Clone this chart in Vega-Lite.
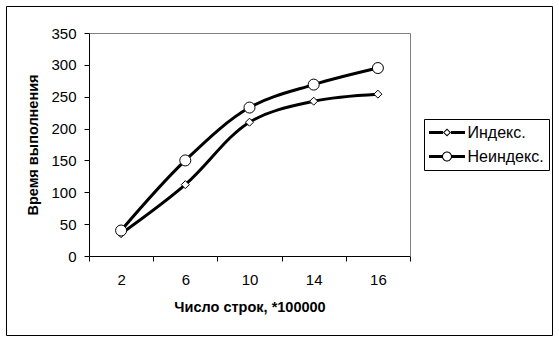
{
  "$schema": "https://vega.github.io/schema/vega-lite/v6.json",
  "width": 546,
  "height": 329,
  "autosize": {"type": "none"},
  "padding": {"left": 6, "top": 6, "right": 7, "bottom": 6},
  "background": "white",
  "config": {
    "view": {"stroke": "black", "strokeWidth": 1},
    "font": "Liberation Sans",
    "axis": {"labelFont": "Liberation Sans", "titleFont": "Liberation Sans", "labelColor": "black", "titleColor": "black", "grid": false}
  },
  "data": {
    "values": [
      {"rows": 2, "time": 35, "series": "Индекс."},
      {"rows": 6, "time": 112, "series": "Индекс."},
      {"rows": 10, "time": 210, "series": "Индекс."},
      {"rows": 14, "time": 243, "series": "Индекс."},
      {"rows": 16, "time": 254, "series": "Индекс."},
      {"rows": 2, "time": 40, "series": "Неиндекс."},
      {"rows": 6, "time": 150, "series": "Неиндекс."},
      {"rows": 10, "time": 233, "series": "Неиндекс."},
      {"rows": 14, "time": 269, "series": "Неиндекс."},
      {"rows": 16, "time": 295, "series": "Неиндекс."}
    ]
  },
  "layer": [
    {
      "mark": {"type": "line", "interpolate": "catmull-rom", "strokeWidth": 3, "color": "black"},
      "encoding": {
        "x": {
          "field": "rows", "type": "ordinal",
          "scale": {"type": "band", "range": [83, 404], "paddingInner": 0, "paddingOuter": 0},
          "axis": {
            "orient": "bottom", "offset": -79, "title": "Число строк, *100000",
            "titleFontWeight": "bold", "titleFontSize": 14.5, "labelFontSize": 15, "labelAngle": 0,
            "tickBand": "extent", "tickSize": 5, "tickColor": "black", "domainColor": "black",
            "labelPadding": 11, "titlePadding": 13
          }
        },
        "y": {
          "field": "time", "type": "quantitative",
          "scale": {"domain": [0, 350], "range": [250, 27], "nice": false, "zero": true},
          "axis": {
            "orient": "left", "offset": -83, "title": "Время выполнения",
            "values": [0, 50, 100, 150, 200, 250, 300, 350],
            "titleFontWeight": "bold", "titleFontSize": 14.5, "labelFontSize": 15,
            "tickSize": 5, "tickColor": "black", "domainColor": "black",
            "labelPadding": 8, "titlePadding": 10
          }
        },
        "detail": {"field": "series", "type": "nominal"}
      }
    },
    {
      "mark": {"type": "point", "filled": true, "color": "black", "opacity": 0, "strokeWidth": 0},
      "encoding": {
        "x": {"field": "rows", "type": "ordinal", "axis": null},
        "y": {"field": "time", "type": "quantitative", "axis": null},
        "shape": {
          "field": "series", "type": "nominal",
          "scale": {
            "domain": ["Индекс.", "Неиндекс."],
            "range": [
              "M-2.118,-0.176L-0.471,-0.176L-0.471,0.176L-2.118,0.176ZM0.471,-0.176L2.118,-0.176L2.118,0.176L0.471,0.176ZM-0.471,0L0,-0.471L0.471,0L0,0.471ZM-0.306,0L0,0.306L0.306,0L0,-0.306Z",
              "M-2.118,-0.176L-0.57,-0.176L-0.57,0.176L-2.118,0.176ZM0.57,-0.176L2.118,-0.176L2.118,0.176L0.57,0.176ZM-0.588,0A0.588,0.588,0,1,1,0.588,0A0.588,0.588,0,1,1,-0.588,0ZM-0.471,0A0.471,0.471,0,1,0,0.471,0A0.471,0.471,0,1,0,-0.471,0Z"
            ]
          },
          "legend": {
            "orient": "none", "legendX": 418, "legendY": 113, "title": null,
            "strokeColor": "black", "fillColor": "white", "padding": 5,
            "labelFont": "Liberation Sans", "labelFontSize": 16, "labelColor": "black",
            "symbolSize": 289, "symbolOffset": 9.5, "labelOffset": 12, "rowPadding": 7,
            "symbolOpacity": 1, "symbolFillColor": "black", "symbolStrokeWidth": 0, "symbolStrokeColor": "transparent"
          }
        }
      }
    },
    {
      "mark": {"type": "point", "filled": true, "fill": "white", "stroke": "black", "strokeWidth": 1, "opacity": 1},
      "encoding": {
        "x": {
          "field": "rows", "type": "ordinal",
          "axis": {"orient": "top", "offset": -27, "labels": false, "ticks": false, "domainColor": "#808080", "title": null}
        },
        "y": {
          "field": "time", "type": "quantitative",
          "axis": {"orient": "right", "offset": -142, "labels": false, "ticks": false, "domainColor": "#808080", "title": null}
        },
        "shape": {
          "condition": {"test": "datum.series === 'Неиндекс.'", "value": "circle"},
          "value": "diamond"
        },
        "size": {
          "condition": {"test": "datum.series === 'Неиндекс.'", "value": 121},
          "value": 64
        }
      }
    }
  ],
  "resolve": {"axis": {"x": "independent", "y": "independent"}}
}
